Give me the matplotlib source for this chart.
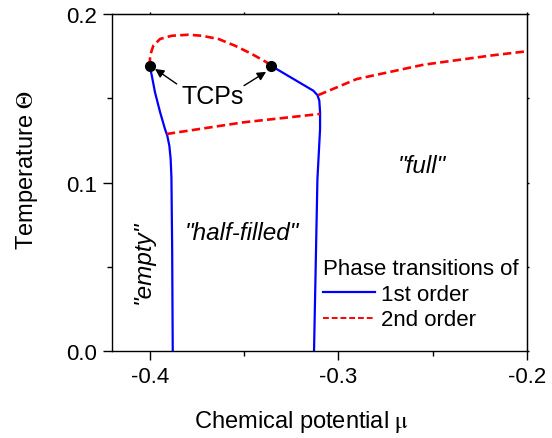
import matplotlib
matplotlib.use("Agg")
import matplotlib.pyplot as plt

plt.rcParams['font.family'] = ['Liberation Sans', 'DejaVu Sans']
plt.rcParams['mathtext.fontset'] = 'stix'

# first-order lines
left_first_mu = [-0.4000, -0.3989, -0.3972, -0.3945, -0.3919, -0.3907, -0.3896, -0.3889, -0.3885, -0.3881, -0.3878]
left_first_T = [0.1693, 0.1634, 0.1535, 0.1417, 0.1317, 0.1278, 0.1218, 0.1139, 0.1031, 0.0600, 0.0]
right_first_mu = [-0.3357, -0.3133, -0.3111, -0.3101, -0.3097, -0.3097, -0.3111, -0.3129]
right_first_T = [0.1693, 0.1545, 0.1519, 0.1486, 0.1417, 0.1317, 0.1020, 0.0]

# second-order lines
loop_mu = [-0.4000, -0.3998, -0.3981, -0.3945, -0.3883, -0.3795, -0.3724, -0.3636, -0.3548, -0.3459, -0.3380, -0.3357]
loop_T = [0.1693, 0.1753, 0.1812, 0.1852, 0.1871, 0.1877, 0.1871, 0.1852, 0.1812, 0.1763, 0.1713, 0.1693]
lower_mu = [-0.3910, -0.3504, -0.3097]
lower_T = [0.1288, 0.1357, 0.1407]
upper_mu = [-0.3106, -0.2903, -0.2549, -0.2196, -0.2000]
upper_T = [0.1519, 0.1614, 0.1699, 0.1753, 0.1779]

tcp_mu = [-0.4000, -0.3357]
tcp_T = [0.1693, 0.1693]

fig = plt.figure(figsize=(5.52, 4.39), dpi=100)
ax = fig.add_axes([0.2029, 0.1982, 0.7518, 0.7676])

blue = '#0000ff'
red = '#ff0000'
dash = (0, (3.2, 1.6))
ax.plot(left_first_mu, left_first_T, color=blue, lw=1.6, label='1st order')
ax.plot(right_first_mu, right_first_T, color=blue, lw=1.6)
ax.plot(loop_mu, loop_T, color=red, lw=1.9, ls=dash)
ax.plot(lower_mu, lower_T, color=red, lw=1.9, ls=dash)
ax.plot(upper_mu, upper_T, color=red, lw=1.9, ls=dash)
ax.plot([], [], color=red, lw=1.4, ls=(0, (3.0, 1.5)), label='2nd order')
ax.plot(tcp_mu, tcp_T, 'o', color='black', ms=7, zorder=5)

ax.set_xlim(-0.42, -0.2)
ax.set_ylim(0, 0.2)
xt = [-0.4, -0.3, -0.2]
yt = [0.0, 0.1, 0.2]
ax.set_xticks(xt)
ax.set_xticklabels(['-0.4', '-0.3', '-0.2'])
ax.set_yticks(yt)
ax.set_yticklabels(['0.0', '0.1', '0.2'])
ax.set_xticks([-0.35, -0.25], minor=True)
ax.set_yticks([0.05, 0.15], minor=True)
ax.tick_params(which='both', direction='out', labelsize=16, width=1.0, pad=4)
ax.tick_params(which='major', length=6.5)
ax.tick_params(which='minor', length=3.5)
for s in ax.spines.values():
    s.set_linewidth(1.0)

sx = ax.secondary_xaxis('top')
sx.set_xticks(xt + [-0.35, -0.25])
sx.tick_params(length=1.5, width=1.0, labeltop=False)
sy = ax.secondary_yaxis('right')
sy.set_yticks(yt + [0.05, 0.15])
sy.tick_params(length=1.5, width=1.0, labelright=False)

ax.set_xlabel(r'Chemical potential $\mathrm{\mu}$', fontsize=17)
ax.set_ylabel(r'Temperature $\mathrm{\Theta}$', fontsize=17)
ax.xaxis.set_label_coords((302 - 112) / 415, -0.168)
ax.yaxis.set_label_coords(-0.1735, 0.54)

ax.text(-0.3664, 0.1515, 'TCPs', fontsize=18, ha='center', va='center')
ax.annotate('', xy=(-0.3972, 0.1674), xytext=(-0.3857, 0.1585),
            arrowprops=dict(arrowstyle='-|>', color='black', lw=1.0, mutation_scale=13, shrinkA=0, shrinkB=0))
ax.annotate('', xy=(-0.3383, 0.1657), xytext=(-0.3500, 0.1575),
            arrowprops=dict(arrowstyle='-|>', color='black', lw=1.0, mutation_scale=13, shrinkA=0, shrinkB=0))

ax.text(-0.4036, 0.0534, '"empty"', fontsize=17.5, style='italic', rotation=90, ha='center', va='center')
ax.text(-0.3512, 0.0704, '"half-filled"', fontsize=17.5, style='italic', ha='center', va='center')
ax.text(-0.2558, 0.1100, '"full"', fontsize=17.5, style='italic', ha='center', va='center')

leg = ax.legend(loc='upper left', bbox_to_anchor=((319 - 112) / 415, (352 - 255) / 337),
                frameon=False, fontsize=16, title='Phase transitions of', title_fontsize=16,
                alignment='left', handlelength=2.3, handletextpad=0.3, labelspacing=0.2,
                borderpad=0.2, borderaxespad=0)

fig.savefig('out.png', dpi=100)
